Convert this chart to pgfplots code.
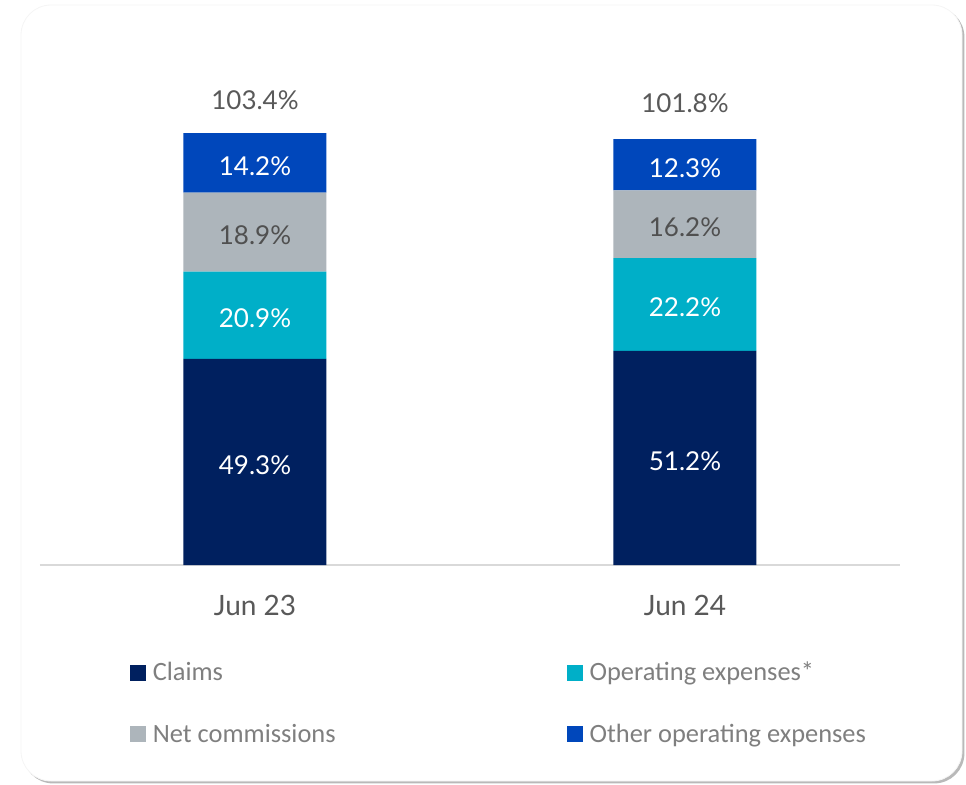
\documentclass[border=0pt]{standalone}
\usepackage{pgfplots}
\pgfplotsset{compat=1.18}
\usepackage{pgfplotstable}
\usepackage{fontspec}
\setmainfont{Lato}
\newfontfamily\legfont{Carlito}
\definecolor{cClaims}{HTML}{00205F}
\definecolor{cOpex}{HTML}{00AFC8}
\definecolor{cNet}{HTML}{ADB5BB}
\definecolor{cOther}{HTML}{0047BB}
\definecolor{txtgray}{HTML}{595959}
\definecolor{leggray}{HTML}{7F7F7F}
\pgfplotstableread{
x claims opex netcomm other
0 49.3 20.9 18.9 14.2
1 51.2 22.2 16.2 12.3
}\data
\begin{document}
\begin{tikzpicture}
\path[use as bounding box] (0,0) rectangle (483pt,392pt);
\fill[gray!55, rounded corners=15pt] (11.5pt,0.3pt) rectangle (482.2pt,388.5pt);
\fill[white, draw=gray!8, rounded corners=15pt] (10.5pt,1.5pt) rectangle (481pt,389.5pt);
\begin{axis}[
  at={(20pt,109.5pt)}, anchor=south west,
  scale only axis, width=430pt, height=229.9pt,
  xmin=-0.5, xmax=1.5, ymin=0, ymax=110,
  ybar stacked, bar width=71.5pt,
  axis y line=none,
  axis x line*=bottom,
  x axis line style={draw=gray!30, line width=1pt, -},
  xtick=data, xticklabels={Jun 23, Jun 24},
  major tick length=0pt,
  xticklabel style={font=\fontsize{14}{16}\selectfont, text=txtgray, yshift=-11.5pt},
  clip=false,
  visualization depends on=rawy \as \rawy,
  nodes near coords={\pgfmathprintnumber[fixed, fixed zerofill, precision=1, assume math mode=true]{\rawy}\%},
  every node near coord/.append style={anchor=center, font=\fontsize{13}{15}\selectfont, yshift=-1.5pt},
  legend columns=2,
  legend style={draw=none, fill=none, inner sep=0pt, at={(0.104,-0.2015)}, anchor=north west,
    font=\legfont\fontsize{13.2}{15}\selectfont, text=leggray,
    /tikz/every even column/.append style={column sep=113.5pt},
    row sep=16pt, cells={anchor=west}},
  legend image code/.code={\fill[#1] (0pt,-4pt) rectangle (8pt,4pt); \path (9.5pt,0pt);},
]
\addplot[fill=cClaims, draw=none, nodes near coords style={text=white}] table[x=x, y=claims] {\data};
\addplot[fill=cOpex, draw=none, nodes near coords style={text=white}] table[x=x, y=opex] {\data};
\addplot[fill=cNet, draw=none, nodes near coords style={text=txtgray!90!black}] table[x=x, y=netcomm] {\data};
\addplot[fill=cOther, draw=none, nodes near coords style={text=white}] table[x=x, y=other] {\data};
\legend{Claims, Operating expenses*, Net commissions, Other operating expenses}
\node[text=txtgray, font=\fontsize{13}{15}\selectfont] at (axis cs:0,111.2) {103.4\%};
\node[text=txtgray, font=\fontsize{13}{15}\selectfont] at (axis cs:1,110.5) {101.8\%};
\end{axis}
\end{tikzpicture}
\end{document}
